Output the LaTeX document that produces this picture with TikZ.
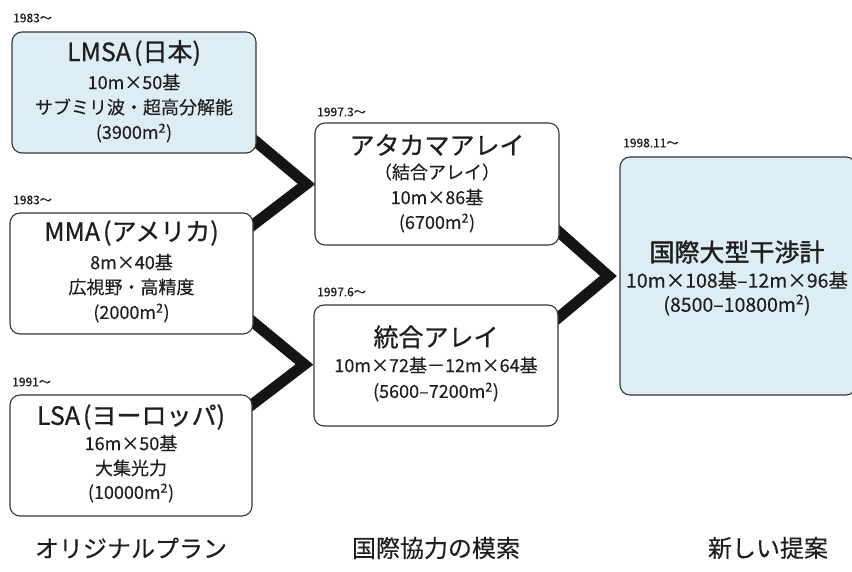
\documentclass[tikz,border=0pt]{standalone}
\usepackage{fontspec}
\setmainfont{Noto Sans CJK JP}[FakeBold=0.2]
\newfontfamily\medfont{Noto Sans CJK JP}[FakeBold=0.7]
\newfontfamily\boldfont{Noto Sans CJK JP}[FakeBold=1.3]
\usetikzlibrary{calc,backgrounds}
\definecolor{boxblue}{RGB}{221,237,244}
\definecolor{edgegray}{RGB}{55,55,55}
\definecolor{inkc}{RGB}{30,30,30}
\begin{document}
\begin{tikzpicture}[x=1pt,y=-1pt,
  box/.style={draw=edgegray, line width=1.1pt, rounded corners=10pt, fill=white, inner sep=0pt},
  bluebox/.style={box, fill=boxblue},
  ttl/.style={font=\medfont\fontsize{25}{29}\selectfont, inner sep=0pt, text=inkc},
  ttlb/.style={font=\boldfont\fontsize{25}{29}\selectfont, inner sep=0pt, text=inkc},
  sub/.style={font=\fontsize{18}{21}\selectfont, inner sep=0pt, text=inkc},
  subl/.style={font=\fontsize{19.5}{23}\selectfont, inner sep=0pt, text=inkc},
  datetxt/.style={font=\fontsize{12}{14}\selectfont, inner sep=0pt, anchor=west, text=inkc},
  captxt/.style={font=\fontsize{24}{28}\selectfont, inner sep=0pt, text=inkc},
  conn/.style={line width=11pt, line join=miter, draw=black!92}
]
\useasboundingbox (0,0) rectangle (852,572);

% boxes
\node[bluebox, minimum width=244pt, minimum height=121pt] (lmsa) at (134,92.5) {};
\node[box, minimum width=243pt, minimum height=121pt] (mma) at (131.5,273.5) {};
\node[box, minimum width=242pt, minimum height=121pt] (lsa) at (131,455.5) {};
\node[box, minimum width=244pt, minimum height=122pt] (ata) at (437,184) {};
\node[box, minimum width=244pt, minimum height=121pt] (uni) at (436,365.5) {};
\node[bluebox, minimum width=236pt, minimum height=238pt] (intl) at (738,276) {};

% connectors
\begin{scope}[on background layer]
\fill[white] (0,0) rectangle (852,572);
\draw[conn] ($(lmsa.south east)+(-9,-19)$) -- ($(ata.west)+(-8,0)$) -- ($(mma.north east)+(-9,19)$);
\draw[conn] ($(mma.south east)+(-9,-19.5)$) -- ($(uni.west)+(-9,-1)$) -- ($(lsa.north east)+(-9.5,17)$);
\draw[conn] ($(ata.south east)+(-9,-21)$) -- ($(intl.west)+(-11,0)$) -- ($(uni.north east)+(-9,20.6)$);
\end{scope}

% dates
\node[datetxt] (d1) at (13,18) {1983〜};
\node[datetxt] (d2) at (13,200) {1983〜};
\node[datetxt] (d3) at (12,382) {1991〜};
\node[datetxt] (d4) at (317,112) {1997.3〜};
\node[datetxt] (d5) at (317,292) {1997.6〜};
\node[datetxt] (d6) at (623,143) {1998.11〜};

% LMSA
\node[ttl] (t1) at (134,53) {LMSA\hspace{3pt}(日本)};
\node[sub] (t1a) at (134,82) {10m×50基};
\node[sub] (t1b) at (134,107) {サブミリ波・超高分解能};
\node[sub] (t1c) at (134,133) {(3900m\textsuperscript{2})};
% MMA
\node[ttl] (t2) at (131.5,233) {MMA\hspace{3pt}(アメリカ)};
\node[sub] (t2a) at (131.5,262) {8m×40基};
\node[sub] (t2b) at (131.5,287) {広視野・高精度};
\node[sub] (t2c) at (131.5,313) {(2000m\textsuperscript{2})};
% LSA
\node[ttl] (t3) at (131,417) {LSA\hspace{3pt}(ヨーロッパ)};
\node[sub] (t3a) at (131,443) {16m×50基};
\node[sub] (t3b) at (131,468) {大集光力};
\node[sub] (t3c) at (131,493) {(10000m\textsuperscript{2})};
% Atacama
\node[ttl] (t4) at (437,145) {アタカマアレイ};
\node[sub] (t4a) at (437,172) {（結合アレイ）};
\node[sub] (t4b) at (437,197) {10m×86基};
\node[sub] (t4c) at (437,223) {(6700m\textsuperscript{2})};
% Unified
\node[ttl] (t5) at (436,337) {統合アレイ};
\node[sub] (t5a) at (436,365) {10m×72基－12m×64基};
\node[sub] (t5b) at (436,392) {(5600–7200m\textsuperscript{2})};
% International
\node[ttlb] (t6) at (737,252) {国際大型干渉計};
\node[subl] (t6a) at (737,280) {10m×108基–12m×96基};
\node[subl] (t6b) at (737,305) {(8500–10800m\textsuperscript{2})};

% bottom captions
\node[captxt] (c1) at (131,548) {オリジナルプラン};
\node[captxt] (c2) at (436,548) {国際協力の模索};
\node[captxt] (c3) at (768,548) {新しい提案};
\end{tikzpicture}
\end{document}
